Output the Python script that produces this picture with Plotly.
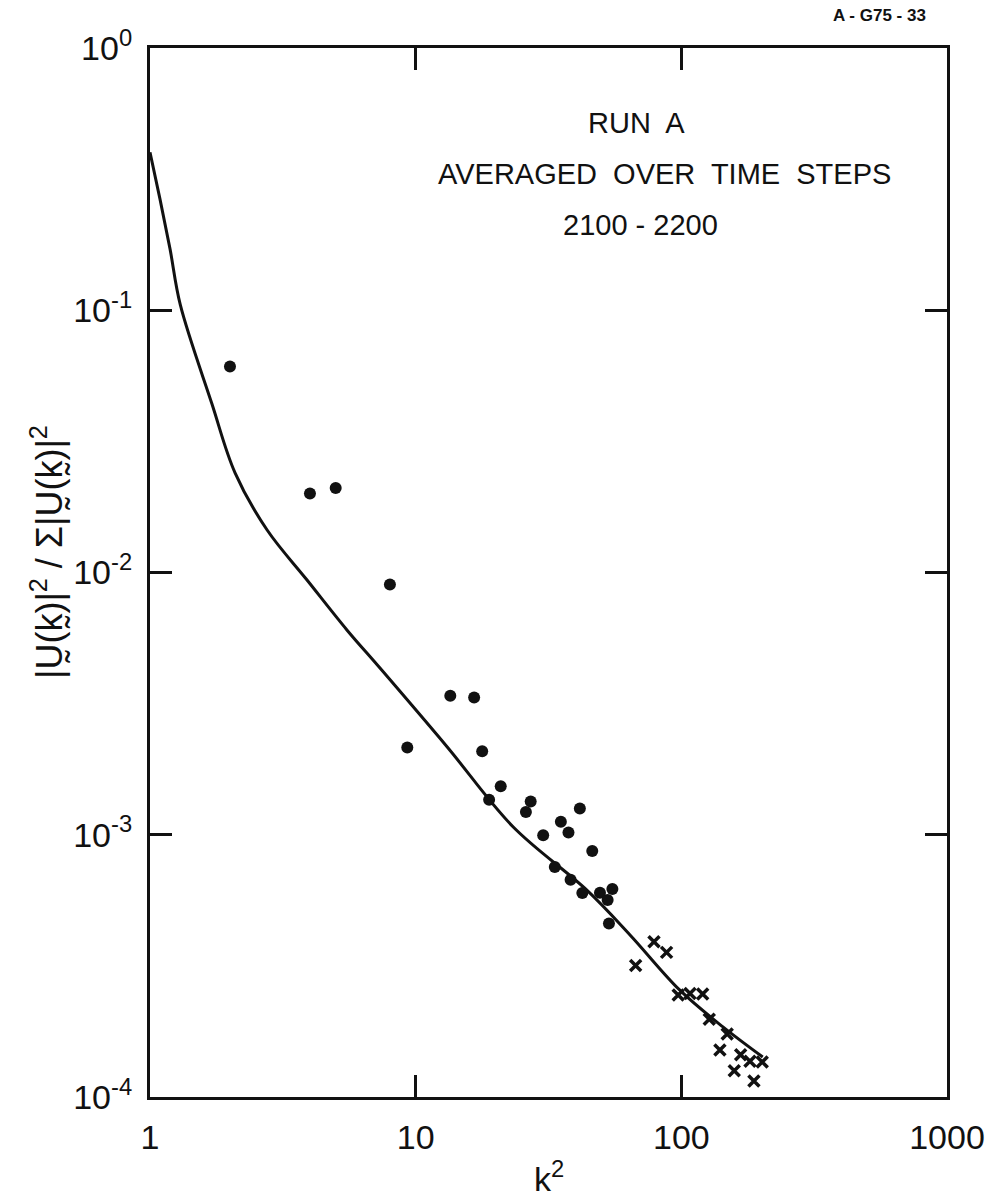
import plotly.graph_objects as go

# Normalised energy spectrum |U(k)|^2 / sum |U(k)|^2 versus k^2 (Run A)
dot_k2 = [2, 4, 5, 8, 9.3, 13.5, 16.6, 17.8, 18.9, 20.9, 26, 27.1, 30.2, 33.4,
          35.2, 37.6, 38.3, 41.5, 42.4, 46.2, 49.4, 52.8, 53.4, 55]
dot_val = [0.061, 0.020, 0.021, 0.0090, 2.15e-3, 3.39e-3, 3.34e-3, 2.08e-3,
           1.36e-3, 1.53e-3, 1.22e-3, 1.34e-3, 9.95e-4, 7.53e-4, 1.12e-3,
           1.02e-3, 6.74e-4, 1.26e-3, 6.00e-4, 8.67e-4, 6.01e-4, 5.64e-4,
           4.59e-4, 6.21e-4]

cross_k2 = [67.3, 78.9, 88, 97.3, 107.8, 120.3, 127.4, 139.7, 148.8, 158.2,
            167.2, 181.3, 187.6, 201.6]
cross_val = [3.17e-4, 3.91e-4, 3.56e-4, 2.45e-4, 2.48e-4, 2.47e-4, 1.98e-4,
             1.51e-4, 1.74e-4, 1.26e-4, 1.45e-4, 1.37e-4, 1.15e-4, 1.36e-4]

curve_k2 = [1.0, 1.09, 1.19, 1.30, 1.71, 2.09, 2.76, 3.90, 5.51, 7.34,
            13.1, 23.3, 44.1, 64.1, 98.5, 143.4, 202.5]
curve_val = [0.40, 0.266, 0.171, 0.105, 0.044, 0.0240, 0.01452,
             0.00936, 0.00604, 0.00432, 0.00217, 0.00107, 6.15e-4, 4.15e-4,
             2.56e-4, 1.85e-4, 1.42e-4]

x_ticks = [1, 10, 100, 1000]
x_ticktext = ["1", "10", "100", "1000"]
y_ticks = [1, 0.1, 0.01, 0.001, 0.0001]
y_ticktext = ["10<sup>0</sup>", "10<sup>-1</sup>", "10<sup>-2</sup>",
              "10<sup>-3</sup>", "10<sup>-4</sup>"]

FONT = "Liberation Sans"
INK = "#111111"

fig = go.Figure()
fig.add_trace(go.Scatter(
    x=curve_k2, y=curve_val, mode="lines",
    line=dict(color=INK, width=3, shape="spline", smoothing=1.0),
    showlegend=False, hoverinfo="skip"))
fig.add_trace(go.Scatter(
    x=dot_k2, y=dot_val, mode="markers",
    marker=dict(symbol="circle", size=12, color=INK),
    showlegend=False))
fig.add_trace(go.Scatter(
    x=cross_k2, y=cross_val, mode="markers",
    marker=dict(symbol="x-thin", size=11, color=INK,
                line=dict(color=INK, width=3.5)),
    showlegend=False))

axis_common = dict(
    showline=True, linecolor=INK, linewidth=3, mirror="allticks",
    ticks="inside", ticklen=22, tickwidth=2.5, tickcolor=INK,
    showgrid=False, zeroline=False, automargin=False,
    tickfont=dict(family=FONT, size=34, color=INK),
)

fig.update_xaxes(type="log", range=[0, 3], tickvals=x_ticks,
                 ticktext=x_ticktext, ticklabelstandoff=8, **axis_common)
fig.update_yaxes(type="log", range=[-4, 0], tickvals=y_ticks,
                 ticktext=y_ticktext, ticklabelstandoff=8, **axis_common)

annotations = [
    dict(text="RUN  A", x=0.61, y=0.946),
    dict(text="AVERAGED  OVER  TIME  STEPS", x=0.646, y=0.897),
    dict(text="2100 - 2200", x=0.615, y=0.848),
]
for a in annotations:
    fig.add_annotation(xref="paper", yref="paper", showarrow=False,
                       font=dict(family=FONT, size=29, color=INK), **a)

fig.add_annotation(xref="paper", yref="paper", x=0.915, y=1.02,
                   xanchor="center", yanchor="bottom", showarrow=False,
                   text="<b>A - G75 - 33</b>",
                   font=dict(family=FONT, size=17, color=INK))

# axis titles
fig.add_annotation(xref="paper", yref="paper", x=0.5, y=-0.098,
                   xanchor="center", yanchor="bottom", showarrow=False,
                   text="k<sup>2</sup>",
                   font=dict(family=FONT, size=34, color=INK))
fig.add_annotation(xref="paper", yref="paper", x=-0.13, y=0.52,
                   xanchor="center", yanchor="middle", showarrow=False,
                   textangle=-90,
                   text="|U\u0330(k\u0330)|<sup>2</sup> / \u03a3|U\u0330(k\u0330)|<sup>2</sup>",
                   font=dict(family=FONT, size=36, color=INK))

fig.update_layout(
    width=991, height=1202,
    margin=dict(l=150, r=44, t=48, b=105),
    paper_bgcolor="white", plot_bgcolor="white",
)

fig.write_html("out.html")
